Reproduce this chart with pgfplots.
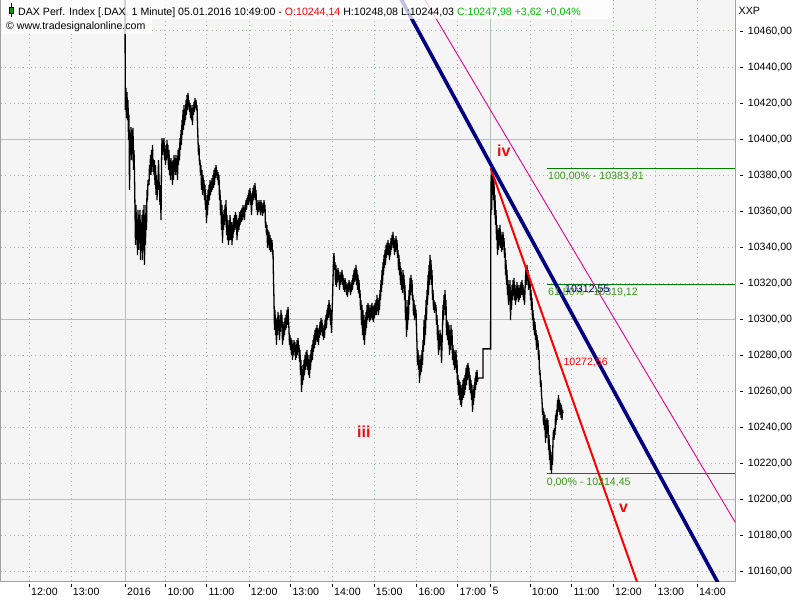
\documentclass[border=0pt]{standalone}
\usepackage{fontspec}
\setmainfont{Liberation Sans}
\usepackage{pgfplots}
\pgfplotsset{compat=1.18}
\definecolor{plotbg}{HTML}{F5F5F5}
\definecolor{gridc}{HTML}{A8B8A8}
\definecolor{gridsolid}{HTML}{B4C4B4}
\definecolor{framec}{HTML}{A0A0A0}
\definecolor{fibc}{HTML}{007F00}
\definecolor{fibtext}{HTML}{3A9A1A}
\definecolor{hdrgreen}{HTML}{00C000}
\definecolor{navyc}{HTML}{000080}
\definecolor{wavered}{HTML}{E81010}
\newcommand{\tf}{\fontsize{10.6pt}{12pt}\selectfont}
\begin{document}
\begin{tikzpicture}
\fill[white] (0pt,0pt) rectangle (800pt,600pt);
\path[use as bounding box] (0pt,0pt) rectangle (800pt,600pt);
\begin{axis}[
  at={(1pt,19pt)}, anchor=south west,
  scale only axis, width=734pt, height=581pt,
  xmin=1, xmax=735, ymin=10154.8, ymax=10477.2,
  axis background/.style={fill=plotbg},
  axis line style={framec, line width=1pt},
  xtick={29.3,71,125.3,165.7,206.7,249,290.7,332.3,374,416.7,457.7,490.7,530,571.7,613.3,655.7,697.3},
  xticklabels={12:00,13:00,2016,10:00,11:00,12:00,13:00,14:00,15:00,16:00,17:00,5,10:00,11:00,12:00,13:00,14:00},
  ytick={10160,10180,...,10460},
  scaled y ticks=false,
  tick align=outside, xtick pos=bottom, ytick pos=right, yticklabel pos=right,
  major tick length=3.4pt,
  every tick/.style={black, line width=0.9pt},
  xtick style={yshift=-3pt}, ytick style={xshift=5pt},
  grid=major,
  major grid style={gridc, line width=1pt, dash pattern=on 1pt off 3.3pt},
  tick label style={font=\tf, inner sep=0pt},
  xticklabel style={anchor=north west, xshift=1.7pt, yshift=-3pt},
  yticklabel style={anchor=west, xshift=9.3pt},
  /pgf/number format/assume math mode=true,
  yticklabel={\pgfmathprintnumber[fixed,fixed zerofill,precision=2,use comma,1000 sep={}]{\tick}},
]
% solid grid lines
\draw[gridsolid, line width=1pt] (axis cs:1,10400) -- (axis cs:735,10400);
\draw[gridsolid, line width=1pt] (axis cs:1,10300) -- (axis cs:735,10300);
\draw[gridsolid, line width=1pt] (axis cs:1,10200) -- (axis cs:735,10200);
\draw[gridsolid, line width=1pt] (axis cs:125.3,10154.8) -- (axis cs:125.3,10477.2);
\draw[gridsolid, line width=1pt] (axis cs:490.7,10154.8) -- (axis cs:490.7,10477.2);
% Fibonacci levels
\addplot[fibc, line width=1.2pt] coordinates {(546.7,10383.81) (735,10383.81)};
\addplot[fibc, line width=1.2pt] coordinates {(546.7,10319.12) (735,10319.12)};
\addplot[fibc, line width=1.2pt] coordinates {(546.7,10214.45) (735,10214.45)};
% price
\addplot[black, line width=1.3pt, line join=miter, miter limit=2] table[row sep=\\] {
x y\\
124.8 10520\\ 125.3 10416.2\\ 126 10428.4\\ 126.5 10411.7\\ 127 10426.1\\ 127.5 10410.6\\ 128 10421.7\\ 128.5 10399.5\\ 129 10413.4\\ 129.5 10371.8\\ 130 10399.5\\ 130.5 10391.2\\ 131 10406.7\\ 131.5 10388.4\\ 132 10405.1\\ 132.5 10394.0\\ 133 10406.2\\ 133.5 10382.9\\ 134 10394.0\\ 134.5 10380.1\\
135 10360.7\\ 135.5 10341.3\\ 136 10363.5\\ 136.5 10344.0\\ 137 10355.1\\ 137.5 10335.7\\ 138 10360.7\\ 138.5 10338.5\\ 139 10357.9\\ 139.5 10346.8\\ 140 10360.7\\ 140.5 10332.9\\ 141 10352.4\\ 141.5 10338.5\\ 142 10357.9\\ 142.5 10332.9\\ 143 10360.7\\ 143.5 10344.0\\ 144 10363.5\\ 144.5 10330.2\\ 145 10357.9\\ 145.5 10341.3\\ 146 10363.5\\ 146.5 10349.6\\ 147 10371.8\\ 147.5 10366.2\\ 148 10377.3\\ 149 10374.5\\ 149.5 10385.6\\
150 10380.1\\ 150.5 10391.2\\ 151 10380.1\\ 151.5 10394.0\\ 152 10381.8\\ 152.5 10396.8\\ 153 10385.6\\ 153.5 10388.4\\ 154 10380.1\\ 154.5 10388.4\\ 155 10374.5\\ 155.5 10385.6\\ 156 10369.0\\ 156.5 10380.1\\ 157 10366.2\\ 157.5 10377.3\\ 158 10371.8\\ 158.5 10388.4\\ 159 10377.3\\ 159.5 10371.8\\ 160 10363.5\\ 160.5 10374.5\\ 161 10355.1\\ 161.5 10385.6\\ 162 10400.6\\ 162.5 10391.2\\ 163 10399.5\\ 163.5 10394.0\\ 164 10400.6\\ 164.5 10388.4\\
165 10396.8\\ 165.5 10385.6\\ 166 10394.0\\ 166.5 10388.4\\ 167 10399.5\\ 167.5 10389.5\\ 168 10396.8\\ 168.5 10382.9\\ 169 10394.0\\ 169.5 10380.1\\ 170 10388.4\\ 170.5 10377.3\\ 171 10389.5\\ 171.5 10380.1\\ 172 10387.3\\ 172.5 10374.5\\ 173 10388.4\\ 173.5 10377.3\\ 174 10391.2\\ 174.5 10382.9\\ 175 10389.5\\ 175.5 10380.1\\ 176 10391.2\\ 176.5 10381.8\\ 177 10388.4\\ 177.5 10377.3\\ 178 10394.0\\ 178.5 10385.6\\ 179 10395.1\\ 179.5 10388.4\\
180 10400.6\\ 180.5 10394.0\\ 181 10405.1\\ 181.5 10396.8\\ 182 10410.6\\ 182.5 10402.3\\ 183 10416.2\\ 183.5 10405.1\\ 184 10418.9\\ 184.5 10407.8\\ 185 10416.2\\ 185.5 10410.6\\ 186 10421.7\\ 186.5 10413.4\\ 187 10424.5\\ 187.5 10416.2\\ 188 10425.6\\ 188.5 10418.9\\ 189 10421.7\\ 189.5 10415.1\\ 190 10420.1\\ 190.5 10411.7\\ 191 10418.9\\ 191.5 10410.6\\ 192 10417.3\\ 192.5 10407.8\\ 193 10418.9\\ 193.5 10413.4\\ 194 10420.6\\ 194.5 10415.1\\
195 10422.8\\ 195.5 10417.3\\ 196 10421.7\\ 196.5 10416.2\\ 197 10418.9\\ 197.5 10407.8\\ 198 10399.5\\ 198.5 10391.2\\ 199 10396.8\\ 199.5 10385.6\\ 200 10388.4\\ 200.5 10380.1\\ 201 10385.6\\ 201.5 10371.8\\ 202 10382.9\\ 202.5 10369.0\\ 203 10380.1\\ 203.5 10371.8\\ 204 10377.3\\ 204.5 10366.2\\ 205 10374.5\\ 205.5 10360.7\\ 206 10369.0\\ 206.5 10353.5\\ 207 10366.2\\ 207.5 10357.9\\ 208 10371.8\\ 208.5 10363.5\\ 209 10374.5\\ 209.5 10366.2\\
210 10377.3\\ 210.5 10369.0\\ 211 10376.2\\ 211.5 10370.7\\ 212 10378.4\\ 212.5 10371.8\\ 213 10380.1\\ 213.5 10372.9\\ 214 10382.9\\ 214.5 10374.5\\ 215 10384.0\\ 215.5 10378.4\\ 216 10385.6\\ 216.5 10380.1\\ 217 10382.9\\ 217.5 10377.3\\ 218 10381.8\\ 218.5 10374.5\\ 219 10380.1\\ 219.5 10366.2\\ 220 10371.8\\ 220.5 10357.9\\ 221 10366.2\\ 221.5 10349.6\\ 222 10363.5\\ 222.5 10342.4\\ 223 10357.9\\ 223.5 10349.6\\ 224 10360.7\\ 224.5 10352.4\\
225 10363.5\\ 225.5 10355.1\\ 226 10366.2\\ 226.5 10346.8\\ 227 10357.9\\ 227.5 10344.0\\ 228 10355.1\\ 228.5 10341.3\\ 229 10352.4\\ 229.5 10344.0\\ 230 10357.9\\ 231 10344.0\\ 231.5 10354.0\\ 232 10341.3\\ 232.5 10352.4\\ 233 10345.1\\ 233.5 10356.2\\ 234 10348.5\\ 234.5 10357.9\\ 235 10349.6\\ 235.5 10359.6\\ 236 10350.7\\ 236.5 10357.9\\ 237 10344.0\\ 237.5 10355.1\\ 238 10348.5\\ 238.5 10356.2\\ 239 10349.6\\ 239.5 10359.6\\
240 10352.4\\ 241 10360.7\\ 241.5 10354.0\\ 242 10361.8\\ 242.5 10355.1\\ 243 10363.5\\ 243.5 10357.9\\ 244 10362.3\\ 244.5 10355.1\\ 245 10363.5\\ 245.5 10359.6\\ 246 10366.2\\ 246.5 10360.7\\ 247 10367.3\\ 247.5 10363.5\\ 248 10369.0\\ 248.5 10363.5\\ 249 10371.8\\ 249.5 10366.2\\ 250 10372.9\\ 250.5 10363.5\\ 251 10370.1\\ 251.5 10357.9\\ 252 10369.0\\ 252.5 10363.5\\ 253 10372.9\\ 253.5 10366.2\\ 254 10374.5\\ 254.5 10367.3\\
255 10375.7\\ 255.5 10366.2\\ 256 10371.8\\ 256.5 10360.7\\ 257 10366.2\\ 257.5 10357.9\\ 258 10364.6\\ 258.5 10359.6\\ 259 10366.2\\ 259.5 10360.7\\ 260 10365.1\\ 260.5 10357.9\\ 261 10366.2\\ 261.5 10359.6\\ 262 10364.6\\ 262.5 10357.4\\ 263 10363.5\\ 263.5 10359.0\\ 264 10366.2\\ 264.5 10360.7\\ 265 10363.5\\ 265.5 10350.7\\ 266 10354.0\\ 266.5 10346.8\\ 267 10352.4\\ 267.5 10339.6\\ 268 10349.6\\ 268.5 10341.3\\ 269 10348.5\\ 269.5 10338.5\\
270 10346.8\\ 270.5 10337.4\\ 271 10345.1\\ 271.5 10338.5\\ 272 10344.0\\ 272.5 10335.7\\ 273 10338.5\\ 273.5 10321.8\\ 274 10310.7\\ 274.5 10294.1\\ 275 10305.2\\ 275.5 10291.3\\ 276 10299.6\\ 276.5 10285.8\\ 277 10300.8\\ 277.5 10291.3\\ 278 10304.1\\ 278.5 10294.1\\ 279 10302.4\\ 279.5 10288.5\\ 280 10299.6\\ 280.5 10293.0\\ 281 10305.2\\ 281.5 10296.9\\ 282 10302.4\\ 282.5 10285.8\\ 283 10296.9\\ 283.5 10288.5\\ 284 10298.5\\ 284.5 10291.3\\
285 10300.8\\ 285.5 10294.1\\ 286 10302.4\\ 286.5 10295.2\\ 287 10305.2\\ 287.5 10296.9\\ 288 10306.9\\ 288.5 10299.6\\ 289 10294.1\\ 289.5 10285.8\\ 290 10291.3\\ 290.5 10283.0\\ 291 10289.7\\ 291.5 10280.2\\ 292 10288.5\\ 292.5 10277.5\\ 293 10285.8\\ 293.5 10280.2\\ 294 10288.5\\ 294.5 10281.9\\ 295 10287.4\\ 295.5 10277.5\\ 296 10285.8\\ 296.5 10278.6\\ 297 10288.5\\ 297.5 10280.2\\ 298 10289.7\\ 298.5 10281.9\\ 299 10285.8\\ 299.5 10276.3\\
300 10283.0\\ 300.5 10269.1\\ 301 10277.5\\ 301.5 10259.7\\ 302 10271.9\\ 302.5 10263.6\\ 303 10274.7\\ 303.5 10266.4\\ 304 10277.5\\ 304.5 10269.1\\ 305 10280.2\\ 305.5 10271.9\\ 306 10281.9\\ 306.5 10274.7\\ 307 10283.0\\ 307.5 10271.9\\ 308 10280.2\\ 308.5 10269.1\\ 309 10277.5\\ 309.5 10267.5\\ 310 10280.2\\ 310.5 10271.9\\ 311 10283.0\\ 311.5 10276.3\\ 312 10285.8\\ 312.5 10277.5\\ 313 10288.5\\ 313.5 10281.9\\ 314 10291.3\\ 314.5 10284.1\\
315 10294.1\\ 315.5 10285.8\\ 316 10295.2\\ 316.5 10288.5\\ 317 10296.9\\ 317.5 10287.4\\ 318 10294.1\\ 318.5 10285.8\\ 319 10295.2\\ 319.5 10289.7\\ 320 10298.5\\ 320.5 10291.3\\ 321 10300.8\\ 321.5 10293.0\\ 322 10299.6\\ 322.5 10290.8\\ 323 10296.9\\ 323.5 10288.5\\ 324 10295.2\\ 324.5 10289.7\\ 325 10299.6\\ 325.5 10294.1\\ 326 10302.4\\ 326.5 10295.2\\ 327 10305.2\\ 327.5 10299.6\\ 328 10308.0\\ 328.5 10300.8\\ 329 10310.7\\ 329.5 10302.4\\
330 10308.0\\ 330.5 10296.9\\ 331 10305.2\\ 331.5 10292.4\\ 332 10302.4\\ 332.5 10310.7\\ 333 10321.8\\ 333.5 10332.9\\ 334 10336.8\\ 334.5 10327.4\\ 335 10331.8\\ 335.5 10319.1\\ 336 10330.2\\ 336.5 10318.0\\ 337 10327.4\\ 337.5 10320.7\\ 338 10328.5\\ 338.5 10321.8\\ 339 10326.3\\ 339.5 10316.3\\ 340 10324.6\\ 340.5 10319.1\\ 341 10326.3\\ 341.5 10320.7\\ 342 10327.4\\ 342.5 10319.1\\ 343 10324.6\\ 343.5 10316.3\\ 344 10321.8\\ 344.5 10315.2\\
345 10322.9\\ 345.5 10317.4\\ 346 10320.7\\ 346.5 10313.5\\ 347 10319.1\\ 347.5 10312.4\\ 348 10320.2\\ 348.5 10315.2\\ 349 10321.8\\ 349.5 10316.3\\ 350 10320.7\\ 350.5 10313.5\\ 351 10319.1\\ 351.5 10315.2\\ 352 10321.8\\ 352.5 10316.3\\ 353 10324.6\\ 353.5 10319.1\\ 354 10327.4\\ 354.5 10320.7\\ 355 10328.5\\ 355.5 10321.8\\ 356 10330.2\\ 356.5 10319.1\\ 357 10327.4\\ 357.5 10316.3\\ 358 10324.6\\ 358.5 10314.6\\ 359 10321.8\\ 359.5 10311.9\\
360 10316.3\\ 360.5 10305.2\\ 361 10310.7\\ 361.5 10296.9\\ 362 10308.0\\ 362.5 10291.3\\ 363 10305.2\\ 363.5 10288.5\\ 364 10302.4\\ 364.5 10285.8\\ 365 10299.6\\ 365.5 10291.3\\ 366 10304.1\\ 366.5 10295.2\\ 367 10308.0\\ 367.5 10299.6\\ 368 10309.1\\ 368.5 10300.8\\ 369 10308.0\\ 369.5 10298.5\\ 370 10306.3\\ 370.5 10299.6\\ 371 10308.0\\ 371.5 10300.8\\ 372 10309.1\\ 372.5 10299.6\\ 373 10306.9\\ 373.5 10298.5\\ 374 10308.0\\ 374.5 10300.8\\
375 10309.1\\ 375.5 10302.4\\ 376 10310.7\\ 376.5 10302.4\\ 377 10313.5\\ 377.5 10305.2\\ 378 10311.9\\ 378.5 10302.4\\ 379 10310.7\\ 379.5 10305.2\\ 380 10316.3\\ 380.5 10310.7\\ 381 10321.8\\ 381.5 10315.2\\ 382 10327.4\\ 382.5 10319.1\\ 383 10331.8\\ 383.5 10324.6\\ 384 10335.7\\ 384.5 10328.5\\ 385 10338.5\\ 385.5 10330.2\\ 386 10341.3\\ 386.5 10334.1\\ 387 10342.4\\ 387.5 10335.7\\ 388 10344.0\\ 388.5 10335.7\\ 389 10342.4\\ 389.5 10332.9\\
390 10341.3\\ 390.5 10335.7\\ 391 10345.1\\ 391.5 10338.5\\ 392 10346.8\\ 392.5 10341.3\\ 393 10348.5\\ 393.5 10339.6\\ 394 10345.1\\ 394.5 10335.7\\ 395 10344.0\\ 395.5 10337.4\\ 396 10346.3\\ 396.5 10338.5\\ 397 10344.0\\ 397.5 10334.1\\ 398 10338.5\\ 398.5 10327.4\\ 399 10335.7\\ 399.5 10324.6\\ 400 10331.8\\ 400.5 10319.1\\ 401 10328.5\\ 401.5 10316.3\\ 402 10324.6\\ 402.5 10314.6\\ 403 10327.4\\ 403.5 10317.4\\ 404 10324.6\\ 404.5 10310.7\\
405 10319.1\\ 405.5 10299.6\\ 406 10310.7\\ 406.5 10290.2\\ 407 10305.2\\ 407.5 10294.1\\ 408 10310.7\\ 408.5 10299.6\\ 409 10316.3\\ 409.5 10308.0\\ 410 10323.0\\ 410.5 10313.5\\ 411 10324.6\\ 411.5 10315.2\\ 412 10321.8\\ 412.5 10310.7\\ 413 10313.5\\ 413.5 10302.4\\ 414 10310.7\\ 414.5 10299.6\\ 415 10308.0\\ 415.5 10300.8\\ 416 10305.2\\ 416.5 10294.1\\ 417 10285.8\\ 417.5 10274.7\\ 418 10283.0\\ 418.5 10271.9\\ 419 10280.2\\ 419.5 10264.7\\
420 10277.5\\ 420.5 10269.1\\ 421 10280.2\\ 421.5 10270.8\\ 422 10283.0\\ 422.5 10274.7\\ 423 10288.5\\ 423.5 10281.9\\ 424 10299.6\\ 424.5 10285.8\\ 425 10302.4\\ 425.5 10291.3\\ 426 10310.7\\ 426.5 10299.6\\ 427 10316.3\\ 427.5 10308.0\\ 428 10324.6\\ 428.5 10313.5\\ 429 10330.2\\ 429.5 10319.1\\ 430 10335.7\\ 430.5 10324.6\\ 431 10332.9\\ 431.5 10319.1\\ 432 10327.4\\ 432.5 10310.7\\ 433 10316.3\\ 433.5 10305.2\\ 434 10310.7\\ 434.5 10303.5\\
435 10309.6\\ 435.5 10305.2\\ 436 10308.0\\ 436.5 10296.9\\ 437 10302.4\\ 437.5 10288.5\\ 438 10296.9\\ 438.5 10280.2\\ 439 10291.3\\ 439.5 10283.0\\ 440 10294.1\\ 440.5 10285.8\\ 441 10291.3\\ 441.5 10275.8\\ 442 10285.8\\ 442.5 10294.1\\ 443 10308.0\\ 443.5 10299.6\\ 444 10313.5\\ 444.5 10305.2\\ 445 10316.3\\ 445.5 10302.4\\ 446 10310.7\\ 446.5 10291.3\\ 447 10299.6\\ 447.5 10288.5\\ 448 10298.5\\ 448.5 10285.8\\ 449 10296.9\\ 449.5 10280.2\\
450 10294.1\\ 450.5 10283.0\\ 451 10296.9\\ 451.5 10285.8\\ 452 10294.1\\ 452.5 10277.5\\ 453 10285.8\\ 453.5 10274.7\\ 454 10283.0\\ 454.5 10271.9\\ 455 10281.9\\ 455.5 10273.0\\ 456 10283.0\\ 456.5 10270.2\\ 457 10277.5\\ 457.5 10263.6\\ 458 10269.1\\ 458.5 10258.0\\ 459 10266.4\\ 459.5 10255.3\\ 460 10265.3\\ 460.5 10252.5\\ 461 10263.6\\ 461.5 10251.4\\ 462 10261.9\\ 462.5 10255.3\\ 463 10266.4\\ 463.5 10256.4\\ 464 10267.5\\ 464.5 10258.0\\
465 10269.1\\ 465.5 10260.8\\ 466 10273.0\\ 466.5 10263.6\\ 467 10274.7\\ 467.5 10266.4\\ 468 10275.8\\ 468.5 10267.5\\ 469 10273.0\\ 469.5 10260.8\\ 470 10269.1\\ 470.5 10259.1\\ 471 10266.4\\ 471.5 10255.3\\ 472 10263.6\\ 472.5 10248.6\\ 473 10258.0\\ 473.5 10252.5\\ 474 10263.6\\ 474.5 10256.4\\ 475 10267.5\\ 475.5 10260.8\\ 476 10270.8\\ 476.5 10263.6\\ 477 10271.9\\ 477.5 10265.3\\ 478 10267.5\\ 483 10267.5\\ 483 10283.6\\ 490.6 10283.6\\
490.8 10355.1\\ 491.2 10380.1\\ 491.6 10360.7\\ 492 10383.8\\ 492.5 10369.0\\ 493 10381.8\\ 493.5 10366.2\\ 494 10377.3\\ 494.5 10357.9\\ 495 10369.0\\ 495.5 10352.4\\ 496 10360.7\\ 496.5 10344.0\\ 497 10352.4\\ 497.5 10335.7\\ 498 10349.6\\ 498.5 10338.5\\ 499 10350.7\\ 499.5 10341.3\\ 500 10352.4\\ 500.5 10339.6\\ 501 10348.5\\ 501.5 10337.4\\ 502 10346.8\\ 502.5 10338.5\\ 503 10348.5\\ 503.5 10341.3\\ 504 10345.1\\ 504.5 10334.1\\
505 10339.6\\ 505.5 10324.6\\ 506 10332.9\\ 506.5 10319.1\\ 507 10327.4\\ 507.5 10313.5\\ 508 10321.8\\ 508.5 10308.0\\ 509 10319.1\\ 509.5 10310.7\\ 510 10321.8\\ 510.5 10299.6\\ 511 10313.5\\ 511.5 10305.2\\ 512 10319.1\\ 512.5 10310.7\\ 513 10321.8\\ 513.5 10313.5\\ 514 10323.0\\ 514.5 10310.7\\ 515 10319.1\\ 515.5 10308.0\\ 516 10316.3\\ 516.5 10310.7\\ 517 10320.7\\ 517.5 10311.9\\ 518 10319.1\\ 518.5 10309.6\\ 519 10317.4\\ 519.5 10310.7\\
520 10319.1\\ 520.5 10311.9\\ 521 10320.7\\ 521.5 10313.5\\ 522 10321.8\\ 522.5 10313.5\\ 523 10319.1\\ 523.5 10310.7\\ 524 10316.3\\ 524.5 10308.0\\ 525 10316.3\\ 525.5 10323.0\\ 526 10328.5\\ 526.5 10319.1\\ 527 10330.2\\ 527.5 10321.8\\ 528 10327.4\\ 528.5 10316.3\\ 529 10324.6\\ 529.5 10317.4\\ 530 10321.8\\ 530.5 10310.7\\ 531 10316.3\\ 531.5 10305.2\\ 532 10311.9\\ 532.5 10299.6\\ 533 10305.2\\ 533.5 10294.1\\ 534 10300.8\\ 534.5 10291.3\\
535 10298.5\\ 535.5 10288.5\\ 536 10294.1\\ 536.5 10283.0\\ 537 10291.3\\ 537.5 10285.8\\ 538 10288.5\\ 538.5 10277.5\\ 539 10283.0\\ 539.5 10269.1\\ 540 10271.9\\ 540.5 10262.5\\ 541 10266.4\\ 541.5 10258.0\\ 542 10255.3\\ 542.5 10247.0\\ 543 10250.8\\ 543.5 10241.4\\ 544 10248.6\\ 544.5 10238.6\\ 545 10247.0\\ 545.5 10231.4\\ 546 10244.2\\ 546.5 10234.2\\ 547 10245.3\\ 547.5 10237.5\\ 548 10244.2\\ 548.5 10227.5\\ 549 10235.9\\ 549.5 10222.0\\
550 10230.3\\ 550.5 10216.4\\ 551 10226.4\\ 551.5 10214.45\\ 552 10224.8\\ 552.5 10219.2\\ 553 10233.1\\ 553.5 10238.6\\ 554 10233.1\\ 554.5 10239.7\\ 555 10235.9\\ 555.5 10247.0\\ 556 10241.4\\ 556.5 10249.7\\ 557 10244.2\\ 557.5 10255.3\\ 558 10249.7\\ 558.5 10258.0\\ 559 10248.6\\ 559.5 10255.3\\ 560 10247.0\\ 560.5 10253.6\\ 561 10245.3\\ 561.5 10252.5\\ 562 10244.2\\ 562.5 10249.7\\ 563 10248.0\\
};
% trend lines
\addplot[magenta, line width=0.9pt] coordinates {(400,10500.6) (760,10164.2)};
\addplot[red, line width=2pt] coordinates {(490.7,10383.8) (650,10133.9)};
\addplot[navyc, line width=3.6pt] coordinates {(380,10499.2) (740,10131.3)};
% labels
\node[anchor=north west, inner sep=0pt, text=fibtext, font=\tf] at (axis cs:548,10381.9) {100,00\% - 10383,81};
\node[anchor=north west, inner sep=0pt, text=fibtext, font=\tf] at (axis cs:548,10317.4) {61,80\% - 10319,12};
\node[anchor=north west, inner sep=0pt, text=navyc, font=\tf] at (axis cs:565,10319.1) {10312,55};
\node[anchor=north west, inner sep=0pt, text=fibtext, font=\tf] at (axis cs:546.7,10212.0) {0,00\% - 10214,45};
\node[anchor=north west, inner sep=0pt, text=red, font=\tf] at (axis cs:563.3,10278.6) {10272,56};
\node[anchor=base west, inner sep=0pt, text=wavered, font=\fontsize{16pt}{18pt}\selectfont\bfseries] at (axis cs:497,10390.1) {iv};
\node[anchor=base west, inner sep=0pt, text=wavered, font=\fontsize{16pt}{18pt}\selectfont\bfseries] at (axis cs:357,10234.2) {iii};
\node[anchor=base west, inner sep=0pt, text=wavered, font=\fontsize{16pt}{18pt}\selectfont\bfseries] at (axis cs:619,10192.6) {v};
\end{axis}
% header
\fill[white, opacity=0.75] (1pt,581pt) rectangle (612pt,600pt);
\fill[white, opacity=0.75] (1pt,566pt) rectangle (152pt,581pt);
\draw[black, line width=0.8pt] (11.5pt,596.7pt) -- (11.5pt,583.3pt);
\filldraw[fill={rgb,255:red,0;green,160;blue,0}, draw=black, line width=0.6pt] (9.3pt,586.7pt) rectangle (13.7pt,592.7pt);
\node[anchor=base west, inner sep=0pt, font=\tf] at (18pt,584pt) {DAX Perf. Index [.DAX\ \ 1 Minute] 05.01.2016 10:49:00 - \textcolor{red}{O:10244,14} H:10248,08 L:10244,03 \textcolor{hdrgreen}{C:10247,98 +3,62 +0,04\%}};
\node[anchor=base west, inner sep=0pt, font=\tf] at (6pt,570pt) {\textcopyright{} www.tradesignalonline.com};
\node[anchor=base west, inner sep=0pt, font=\tf] at (738.5pt,585pt) {XXP};
\end{tikzpicture}
\end{document}
